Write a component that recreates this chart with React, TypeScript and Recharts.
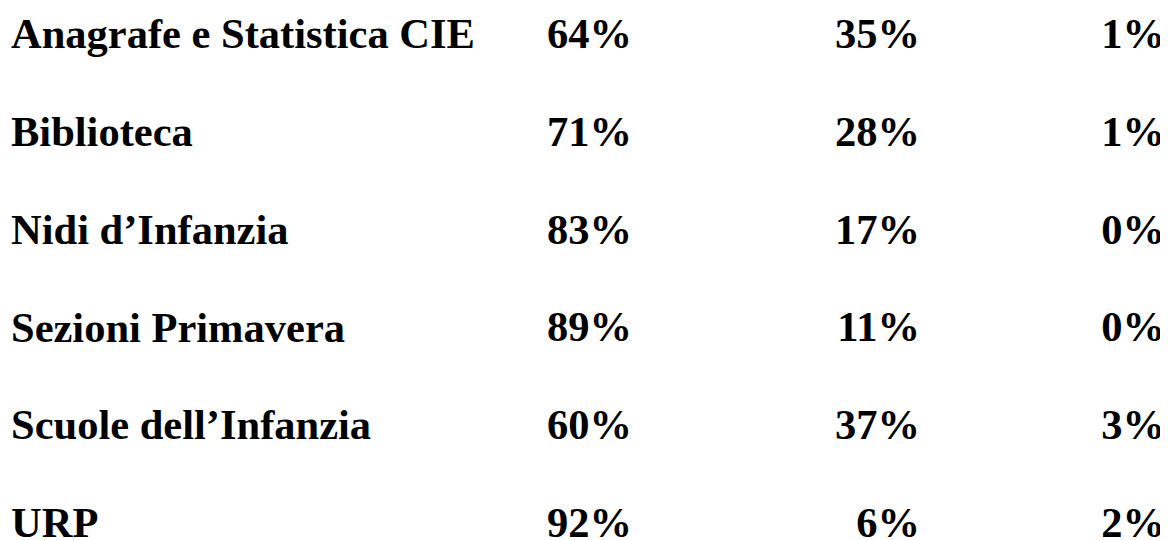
import React from "react";
import { BarChart, Bar, XAxis, YAxis, LabelList } from "recharts";

const services = [
  "Anagrafe e Statistica CIE",
  "Biblioteca",
  "Nidi d’Infanzia",
  "Sezioni Primavera",
  "Scuole dell’Infanzia",
  "URP",
];
const firstCol = [64, 71, 83, 89, 60, 92];
const secondCol = [35, 28, 17, 11, 37, 6];
const thirdCol = [1, 1, 0, 0, 3, 2];

const data = services.map((name, i) => ({
  name,
  a: firstCol[i],
  b: secondCol[i],
  c: thirdCol[i],
}));

const font = {
  fontFamily: "'Liberation Serif', 'Times New Roman', serif",
  fontWeight: 700,
  fontSize: 42.5,
  fill: "#000",
};

const NameTick = (props: any) => {
  const { y, payload } = props;
  return (
    <text x={3} y={y} dy="0.355em" textAnchor="start" {...font}>
      {payload.value}
    </text>
  );
};

// right edge of each value column
const valueLabel = (right: number) => (props: any) => {
  const vb = props.viewBox ?? props;
  const cy = vb.y + vb.height / 2;
  return (
    <text x={right} y={cy} dy="0.355em" textAnchor="end" {...font}>
      {props.value}%
    </text>
  );
};

const App: React.FC = () => {
  return (
    <BarChart
      width={1160}
      height={532}
      data={data}
      layout="vertical"
      margin={{ top: -24, right: 0, bottom: -31, left: 0 }}
    >
      <XAxis type="number" domain={[0, 100]} hide />
      <YAxis
        type="category"
        dataKey="name"
        width={500}
        axisLine={false}
        tickLine={false}
        tick={<NameTick />}
        interval={0}
      />
      <Bar dataKey="a" stackId="s" fill="none" minPointSize={1} isAnimationActive={false}>
        <LabelList dataKey="a" content={valueLabel(624)} />
      </Bar>
      <Bar dataKey="b" stackId="s" fill="none" minPointSize={1} isAnimationActive={false}>
        <LabelList dataKey="b" content={valueLabel(912)} />
      </Bar>
      <Bar dataKey="c" stackId="s" fill="none" minPointSize={1} isAnimationActive={false}>
        <LabelList dataKey="c" content={valueLabel(1157)} />
      </Bar>
    </BarChart>
  );
};

export default App;
